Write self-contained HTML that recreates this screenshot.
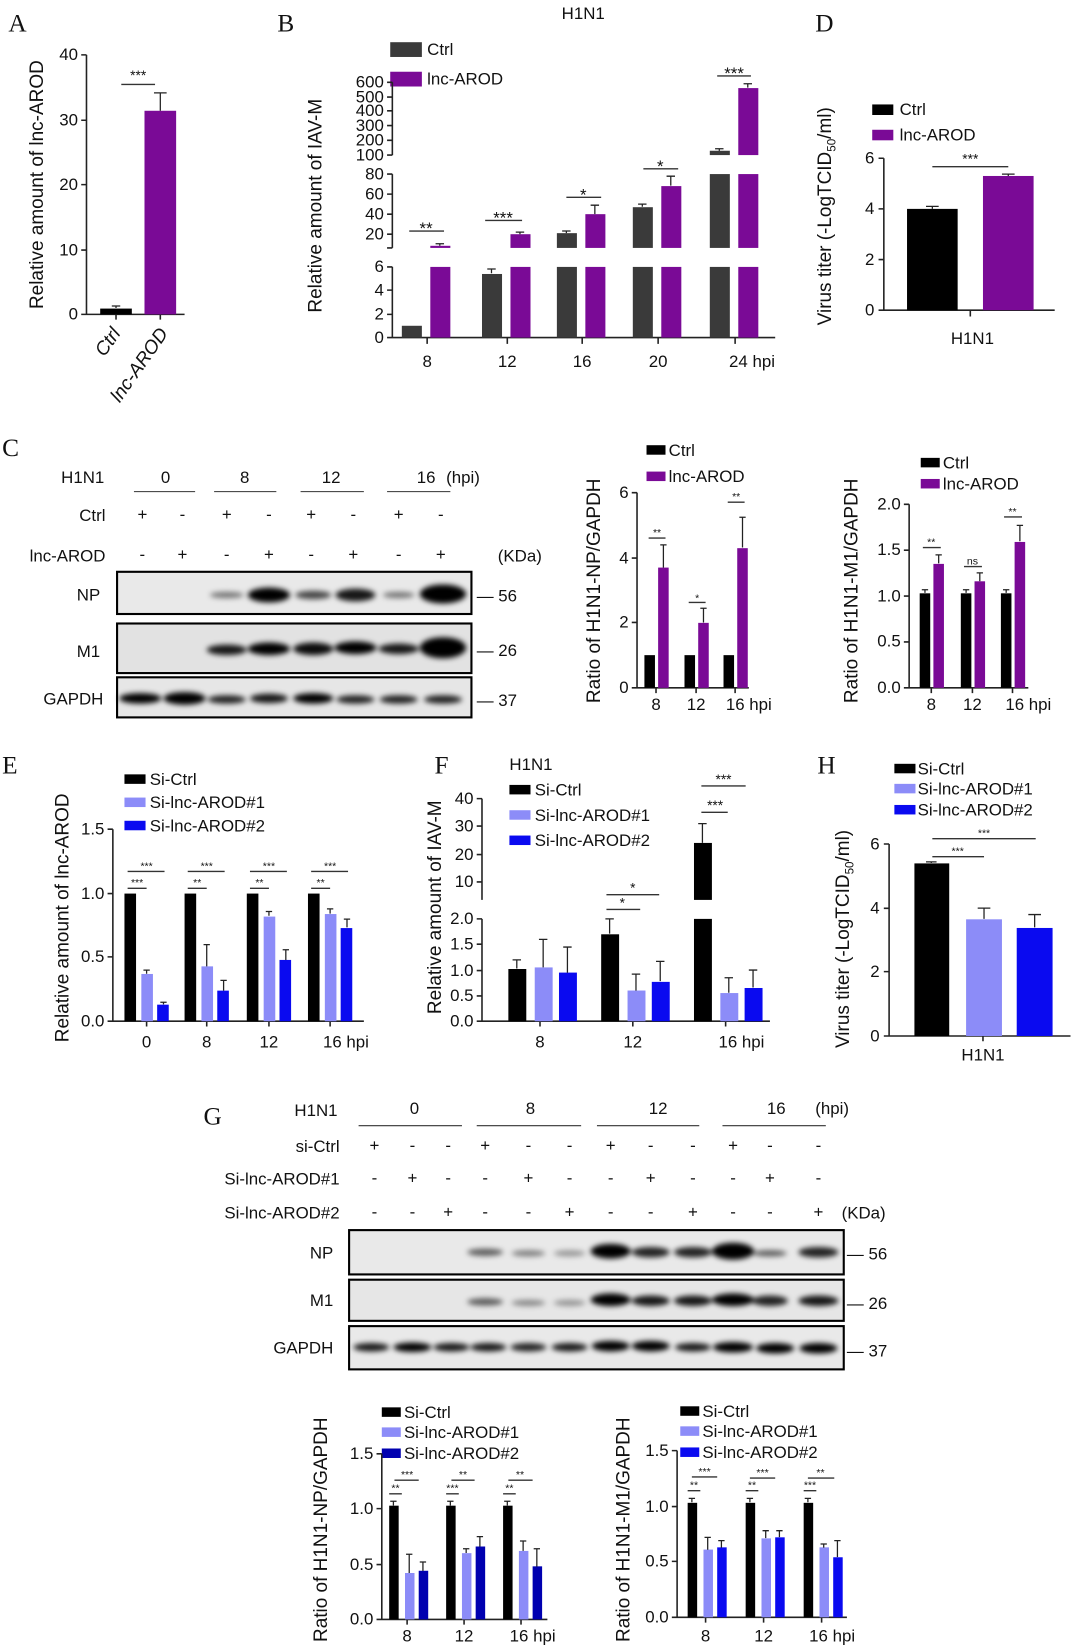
<!DOCTYPE html>
<html><head><meta charset="utf-8"><style>
html,body{margin:0;padding:0;background:#fff;}
svg{display:block;font-family:"Liberation Sans",Arial,sans-serif;}
.t{font-size:16px;fill:#111;}
.yt{font-size:18px;fill:#111;}
.s{font-size:13px;fill:#111;}
.ss{font-size:10px;fill:#111;}
.L{font-family:"Liberation Serif",serif;font-size:24px;fill:#111;}
.ax{stroke:#222;stroke-width:1.5;fill:none;}
.e{stroke:#222;stroke-width:1.2;fill:none;}
.sig{stroke:#333;stroke-width:1.3;}
</style></head><body>
<svg width="1080" height="1650" viewBox="0 0 1024 1564" preserveAspectRatio="none">
<defs><filter id="bl" x="-20%" y="-100%" width="140%" height="300%"><feGaussianBlur stdDeviation="2.5"/></filter></defs>

<!-- PANEL A -->
<text class="L" x="8" y="30">A</text>
<path class="ax" d="M82 52V298H175M77 52H82M77 114H82M77 175H82M77 237H82M77 298H82M110 298v5M152 298v5"/>
<g class="t" text-anchor="end"><text x="74" y="57">40</text><text x="74" y="119">30</text><text x="74" y="180">20</text><text x="74" y="242">10</text><text x="74" y="303">0</text></g>
<rect x="95" y="292.5" width="30" height="5.5" fill="#000"/>
<rect x="137" y="105" width="30" height="193" fill="#7A0A96"/>
<path class="e" d="M152 105V88M146 88H158M110 292V290M106 290H114"/>
<line class="sig" x1="115" y1="80" x2="147" y2="80"/><text class="s" x="131" y="76" text-anchor="middle">***</text>
<text class="yt" transform="translate(115,316) rotate(-55)" text-anchor="end" font-style="italic">Ctrl</text>
<text class="yt" transform="translate(160,316) rotate(-55)" text-anchor="end" font-style="italic">lnc-AROD</text>
<text class="yt" transform="translate(41,175) rotate(-90)" text-anchor="middle">Relative amount of lnc-AROD</text>

<!-- PANEL B -->
<text class="L" x="263" y="30">B</text>
<text class="t" x="553" y="18" text-anchor="middle">H1N1</text>
<rect x="370" y="40" width="30" height="14" fill="#3a3a3a"/><text class="t" x="405" y="52">Ctrl</text>
<rect x="370" y="68" width="30" height="14" fill="#7A0A96"/><text class="t" x="405" y="80">lnc-AROD</text>
<path class="ax" d="M372 253V320H735M372 165V235M372 78V147M367 253H372M367 275H372M367 298H372M367 320H372M367 165H372M367 184H372M367 203H372M367 222H372M367 235H372M367 78H372M367 92H372M367 105H372M367 119H372M367 133H372M367 147H372M405 320v6M481 320v6M552 320v6M624 320v6M697 320v6"/>
<g class="t" text-anchor="end" font-size="15"><text x="364" y="258">6</text><text x="364" y="280">4</text><text x="364" y="303">2</text><text x="364" y="325">0</text>
<text x="364" y="170">80</text><text x="364" y="189">60</text><text x="364" y="208">40</text><text x="364" y="227">20</text>
<text x="364" y="83">600</text><text x="364" y="97">500</text><text x="364" y="110">400</text><text x="364" y="124">300</text><text x="364" y="138">200</text><text x="364" y="152">100</text></g>
<g fill="#3a3a3a">
<rect x="381" y="308.8" width="19" height="11.2"/>
<rect x="457" y="259.7" width="19" height="60.3"/>
<rect x="528" y="253" width="19" height="67"/><rect x="528" y="221" width="19" height="14"/>
<rect x="600" y="253" width="19" height="67"/><rect x="600" y="196.4" width="19" height="38.6"/>
<rect x="673" y="253" width="19" height="67"/><rect x="673" y="165" width="19" height="70"/><rect x="673" y="142.9" width="19" height="4.1"/>
</g>
<g fill="#7A0A96">
<rect x="408" y="253" width="19" height="67"/><rect x="408" y="233" width="19" height="2"/>
<rect x="484" y="253" width="19" height="67"/><rect x="484" y="222" width="19" height="13"/>
<rect x="555" y="253" width="19" height="67"/><rect x="555" y="203" width="19" height="32"/>
<rect x="627" y="253" width="19" height="67"/><rect x="627" y="176.4" width="19" height="58.6"/>
<rect x="700" y="253" width="19" height="67"/><rect x="700" y="165" width="19" height="70"/><rect x="700" y="83.5" width="19" height="63.5"/>
</g>
<path class="e" d="M417 233V231M413 231H421M466 259V255M462 255H470M493 222V220M489 220H497M537 221V219M533 219H541M564 203V194.5M560 194.5H568M609 196V193.5M605 193.5H613M636 176V167M632 167H640M682 143V141M678 141H686M709 83V79.4M705 79.4H713"/>
<g class="sig"><line x1="388" y1="219" x2="421" y2="219"/><line x1="460" y1="209" x2="495" y2="209"/><line x1="537" y1="187" x2="570" y2="187"/><line x1="610" y1="160" x2="643" y2="160"/><line x1="680" y1="72" x2="712" y2="72"/></g>
<g class="t" text-anchor="middle"><text x="404" y="222">**</text><text x="477" y="212">***</text><text x="553" y="190">*</text><text x="626" y="163">*</text><text x="696" y="75">***</text></g>
<g class="t" text-anchor="middle"><text x="405" y="348">8</text><text x="481" y="348">12</text><text x="552" y="348">16</text><text x="624" y="348">20</text><text x="713" y="348">24 hpi</text></g>
<text class="yt" transform="translate(305,195) rotate(-90)" text-anchor="middle">Relative amount of IAV-M</text>

<!-- PANEL D -->
<text class="L" x="773" y="30">D</text>
<rect x="827" y="99" width="20" height="10" fill="#000"/><text class="t" x="853" y="109">Ctrl</text>
<rect x="827" y="123" width="20" height="10" fill="#7A0A96"/><text class="t" x="853" y="133">lnc-AROD</text>
<path class="ax" d="M838 150V294H1000M833 150H838M833 198H838M833 246H838M833 294H838M920 294v6"/>
<g class="t" text-anchor="end"><text x="829" y="155">6</text><text x="829" y="203">4</text><text x="829" y="251">2</text><text x="829" y="299">0</text></g>
<rect x="860" y="198" width="48" height="96" fill="#000"/>
<rect x="932" y="166.8" width="48" height="127.2" fill="#7A0A96"/>
<path class="e" d="M884 198V195.6M878 195.6H890M956 166.8V165M950 165H962"/>
<line class="sig" x1="884" y1="158" x2="956" y2="158"/><text class="s" x="920" y="155" text-anchor="middle">***</text>
<text class="t" x="922" y="326" text-anchor="middle">H1N1</text>
<text class="yt" transform="translate(788,205) rotate(-90)" text-anchor="middle">Virus titer (-LogTCID<tspan font-size="11" dy="4">50</tspan><tspan dy="-4">/ml)</tspan></text>

<!-- PANEL C blot -->
<text class="L" x="2" y="432">C</text>
<g class="t"><text x="58" y="458">H1N1</text><text x="157" y="458" text-anchor="middle">0</text><text x="232" y="458" text-anchor="middle">8</text><text x="314" y="458" text-anchor="middle">12</text><text x="404" y="458" text-anchor="middle">16</text><text x="423" y="458">(hpi)</text>
<text x="100" y="494" text-anchor="end">Ctrl</text><text x="100" y="532" text-anchor="end">lnc-AROD</text><text x="472" y="532">(KDa)</text>
<text x="95" y="569" text-anchor="end">NP</text><text x="95" y="623" text-anchor="end">M1</text><text x="98" y="668" text-anchor="end">GAPDH</text>
<text x="452" y="570">— 56</text><text x="452" y="622">— 26</text><text x="452" y="669">— 37</text></g>
<path stroke="#333" stroke-width="1" d="M127 466H185M203 466H262M285 466H345M367 466H427"/>
<g class="t" text-anchor="middle"><text x="135" y="493">+</text><text x="173" y="493">-</text><text x="215" y="493">+</text><text x="255" y="493">-</text><text x="295" y="493">+</text><text x="335" y="493">-</text><text x="378" y="493">+</text><text x="418" y="493">-</text>
<text x="135" y="531">-</text><text x="173" y="531">+</text><text x="215" y="531">-</text><text x="255" y="531">+</text><text x="295" y="531">-</text><text x="335" y="531">+</text><text x="378" y="531">-</text><text x="418" y="531">+</text></g>
<rect x="111" y="542" width="336" height="40" fill="#e9e9e9" stroke="#000" stroke-width="2"/>
<rect x="111" y="591" width="336" height="47" fill="#e2e2e2" stroke="#000" stroke-width="2"/>
<rect x="111" y="642" width="336" height="38" fill="#e6e6e6" stroke="#000" stroke-width="2"/>
<g filter="url(#bl)" fill="#000">
<ellipse cx="215" cy="564" rx="16" ry="3" opacity=".5"/><ellipse cx="255" cy="564" rx="20" ry="7"/><ellipse cx="297" cy="564" rx="17" ry="4" opacity=".7"/><ellipse cx="337" cy="564" rx="19" ry="6" opacity=".9"/><ellipse cx="378" cy="564" rx="15" ry="3" opacity=".5"/><ellipse cx="420" cy="563" rx="22" ry="9"/>
<ellipse cx="215" cy="616" rx="19" ry="5" opacity=".9"/><ellipse cx="255" cy="615" rx="20" ry="6"/><ellipse cx="297" cy="615" rx="19" ry="6" opacity=".95"/><ellipse cx="337" cy="614" rx="20" ry="6"/><ellipse cx="378" cy="615" rx="19" ry="5" opacity=".9"/><ellipse cx="420" cy="614" rx="22" ry="10"/>
<ellipse cx="133" cy="662" rx="20" ry="5"/><ellipse cx="175" cy="662" rx="20" ry="6"/><ellipse cx="215" cy="663" rx="18" ry="4" opacity=".85"/><ellipse cx="255" cy="662" rx="18" ry="4.5" opacity=".9"/><ellipse cx="297" cy="662" rx="19" ry="5"/><ellipse cx="337" cy="663" rx="18" ry="4" opacity=".85"/><ellipse cx="378" cy="663" rx="18" ry="4" opacity=".85"/><ellipse cx="420" cy="663" rx="18" ry="4" opacity=".85"/>
</g>

<!-- C NP chart -->
<rect x="613" y="422" width="18" height="9" fill="#000"/><text class="t" x="634" y="432">Ctrl</text>
<rect x="613" y="447" width="18" height="9" fill="#7A0A96"/><text class="t" x="634" y="457">lnc-AROD</text>
<path class="ax" d="M604 467V652H710M599 467H604M599 529H604M599 590H604M599 652H604M622 652v5M660 652v5M697 652v5"/>
<g class="t" text-anchor="end"><text x="596" y="472">6</text><text x="596" y="534">4</text><text x="596" y="595">2</text><text x="596" y="657">0</text></g>
<g fill="#000"><rect x="611" y="621" width="10" height="31"/><rect x="649" y="621" width="10" height="31"/><rect x="686" y="621" width="10" height="31"/></g>
<g fill="#7A0A96"><rect x="624" y="538" width="10" height="114"/><rect x="662" y="590.4" width="10" height="61.6"/><rect x="699" y="519.6" width="10" height="132.4"/></g>
<path class="e" d="M629 538V516.5M626 516.5H632M667 590V576.5M664 576.5H670M704 519V490.3M701 490.3H707"/>
<path class="sig" d="M615 510H631M653 571H669M690 476H706"/>
<g class="ss" text-anchor="middle"><text x="623" y="508">**</text><text x="661" y="570">*</text><text x="698" y="474">**</text></g>
<g class="t" text-anchor="middle"><text x="622" y="673">8</text><text x="660" y="673">12</text><text x="710" y="673">16 hpi</text></g>
<text class="yt" transform="translate(569,560) rotate(-90)" text-anchor="middle">Ratio of H1N1-NP/GAPDH</text>

<!-- C M1 chart -->
<rect x="873" y="434" width="18" height="9" fill="#000"/><text class="t" x="894" y="444">Ctrl</text>
<rect x="873" y="454" width="18" height="9" fill="#7A0A96"/><text class="t" x="894" y="464">lnc-AROD</text>
<path class="ax" d="M862 478V652H975M857 478H862M857 521.5H862M857 565H862M857 608.5H862M857 652H862M883 652v5M922 652v5M960 652v5"/>
<g class="t" text-anchor="end"><text x="854" y="483">2.0</text><text x="854" y="526">1.5</text><text x="854" y="570">1.0</text><text x="854" y="613">0.5</text><text x="854" y="657">0.0</text></g>
<g fill="#000"><rect x="872" y="562.4" width="10" height="89.6"/><rect x="911" y="562.4" width="10" height="89.6"/><rect x="949" y="562.4" width="10" height="89.6"/></g>
<g fill="#7A0A96"><rect x="885" y="534.5" width="10" height="117.5"/><rect x="924" y="551" width="10" height="101"/><rect x="962" y="513.7" width="10" height="138.3"/></g>
<path class="e" d="M877 562V559M874 559H880M916 562V559M913 559H919M954 562V559M951 559H957M890 534V526M887 526H893M929 551V543M926 543H932M967 513V498M964 498H970"/>
<path class="sig" d="M875 519H892M914 537H931M952 490H969"/>
<g class="ss" text-anchor="middle"><text x="883" y="517">**</text><text x="922" y="535">ns</text><text x="960" y="488">**</text></g>
<g class="t" text-anchor="middle"><text x="883" y="673">8</text><text x="922" y="673">12</text><text x="975" y="673">16 hpi</text></g>
<text class="yt" transform="translate(813,560) rotate(-90)" text-anchor="middle">Ratio of H1N1-M1/GAPDH</text>

<!-- PANEL E -->
<text class="L" x="2" y="733">E</text>
<rect x="118" y="734" width="20" height="9" fill="#000"/><text class="t" x="142" y="744">Si-Ctrl</text>
<rect x="118" y="756" width="20" height="9" fill="#8C8CF8"/><text class="t" x="142" y="766">Si-lnc-AROD#1</text>
<rect x="118" y="778" width="20" height="9" fill="#0A0AF0"/><text class="t" x="142" y="788">Si-lnc-AROD#2</text>
<path class="ax" d="M107 786V968H345M102 786H107M102 847H107M102 907H107M102 968H107M139 968v5M196 968v5M255 968v5M313 968v5"/>
<g class="t" text-anchor="end"><text x="99" y="791">1.5</text><text x="99" y="852">1.0</text><text x="99" y="912">0.5</text><text x="99" y="973">0.0</text></g>
<g fill="#000"><rect x="118" y="847" width="11" height="121"/><rect x="175" y="847" width="11" height="121"/><rect x="234" y="847" width="11" height="121"/><rect x="292" y="847" width="11" height="121"/></g>
<g fill="#8C8CF8"><rect x="134" y="923.2" width="11" height="44.8"/><rect x="191" y="916" width="11" height="52"/><rect x="250" y="868.8" width="11" height="99.2"/><rect x="308" y="866.4" width="11" height="101.6"/></g>
<g fill="#0A0AF0"><rect x="149" y="952.3" width="11" height="15.7"/><rect x="206" y="939" width="11" height="29"/><rect x="265" y="909.9" width="11" height="58.1"/><rect x="323" y="879.7" width="11" height="88.3"/></g>
<path class="e" d="M139 923V919.6M136 919.6H142M155 952V950M152 950H158M196 916V895.4M193 895.4H199M212 939V929.3M209 929.3H215M255 868V864M252 864H258M271 910V900.2M268 900.2H274M313 866V861.5M310 861.5H316M329 879V871.2M326 871.2H332"/>
<path class="sig" d="M121 826H156M121 842H139M178 826H213M178 842H196M237 826H272M237 842H255M295 826H330M295 842H313"/>
<g class="ss" text-anchor="middle"><text x="139" y="824">***</text><text x="130" y="840">***</text><text x="196" y="824">***</text><text x="187" y="840">**</text><text x="255" y="824">***</text><text x="246" y="840">**</text><text x="313" y="824">***</text><text x="304" y="840">**</text></g>
<g class="t" text-anchor="middle"><text x="139" y="993">0</text><text x="196" y="993">8</text><text x="255" y="993">12</text><text x="328" y="993">16 hpi</text></g>
<text class="yt" transform="translate(65,870) rotate(-90)" text-anchor="middle">Relative amount of lnc-AROD</text>

<!-- PANEL F -->
<text class="L" x="412" y="733">F</text>
<text class="t" x="483" y="730">H1N1</text>
<rect x="483" y="744" width="20" height="9" fill="#000"/><text class="t" x="507" y="754">Si-Ctrl</text>
<rect x="483" y="768" width="20" height="9" fill="#8C8CF8"/><text class="t" x="507" y="778">Si-lnc-AROD#1</text>
<rect x="483" y="792" width="20" height="9" fill="#0A0AF0"/><text class="t" x="507" y="802">Si-lnc-AROD#2</text>
<path class="ax" d="M457 757V853M457 871V968H730M452 757H457M452 783H457M452 810H457M452 836H457M452 871H457M452 895H457M452 920H457M452 944H457M452 968H457M512 968v5M600 968v5M688 968v5"/>
<g class="t" text-anchor="end"><text x="449" y="762">40</text><text x="449" y="788">30</text><text x="449" y="815">20</text><text x="449" y="841">10</text><text x="449" y="876">2.0</text><text x="449" y="900">1.5</text><text x="449" y="925">1.0</text><text x="449" y="949">0.5</text><text x="449" y="973">0.0</text></g>
<g fill="#000"><rect x="482" y="918.5" width="17" height="49.5"/><rect x="570" y="885.6" width="17" height="82.4"/><rect x="658" y="871" width="17" height="97"/><rect x="658" y="799" width="17" height="54"/></g>
<g fill="#8C8CF8"><rect x="507" y="917" width="17" height="51"/><rect x="595" y="938.9" width="17" height="29.1"/><rect x="683" y="941.3" width="17" height="26.7"/></g>
<g fill="#0A0AF0"><rect x="530" y="921.9" width="17" height="46.1"/><rect x="618" y="930.7" width="17" height="37.3"/><rect x="706" y="936.5" width="17" height="31.5"/></g>
<path class="e" d="M490 918V909.8M486 909.8H494M515 917V890.4M511 890.4H519M538 922V897.7M534 897.7H542M578 885V871M574 871H582M603 939V923.4M599 923.4H607M626 930V911.3M622 911.3H630M666 799V780.7M662 780.7H670M691 941V926.8M687 926.8H695M714 936V919.5M710 919.5H718"/>
<path class="sig" d="M575 848H625M575 862H607M665 745H707M665 770H690"/>
<g class="s" text-anchor="middle"><text x="600" y="846">*</text><text x="590" y="860">*</text><text x="686" y="743">***</text><text x="678" y="768">***</text></g>
<g class="t" text-anchor="middle"><text x="512" y="993">8</text><text x="600" y="993">12</text><text x="703" y="993">16 hpi</text></g>
<text class="yt" transform="translate(418,860) rotate(-90)" text-anchor="middle">Relative amount of IAV-M</text>

<!-- PANEL H -->
<text class="L" x="775" y="733">H</text>
<rect x="848" y="724" width="20" height="9" fill="#000"/><text class="t" x="870" y="734">Si-Ctrl</text>
<rect x="848" y="743" width="20" height="9" fill="#8C8CF8"/><text class="t" x="870" y="753">Si-lnc-AROD#1</text>
<rect x="848" y="763" width="20" height="9" fill="#0A0AF0"/><text class="t" x="870" y="773">Si-lnc-AROD#2</text>
<path class="ax" d="M843 800V982H1015M838 800H843M838 861H843M838 921H843M838 982H843M932 982v5"/>
<g class="t" text-anchor="end"><text x="834" y="805">6</text><text x="834" y="866">4</text><text x="834" y="926">2</text><text x="834" y="987">0</text></g>
<rect x="867" y="818.4" width="33" height="163.6" fill="#000"/>
<rect x="916" y="871.4" width="34" height="110.6" fill="#8C8CF8"/>
<rect x="964" y="879.6" width="34" height="102.4" fill="#0A0AF0"/>
<path class="e" d="M883 818V817M878 817H888M933 871V860.8M927 860.8H939M981 879V866.9M975 866.9H987"/>
<path class="sig" d="M884 812H933M884 795H982"/>
<g class="ss" text-anchor="middle"><text x="908" y="810">***</text><text x="933" y="793">***</text></g>
<text class="t" x="932" y="1005" text-anchor="middle">H1N1</text>
<text class="yt" transform="translate(805,890) rotate(-90)" text-anchor="middle">Virus titer (-LogTCID<tspan font-size="11" dy="4">50</tspan><tspan dy="-4">/ml)</tspan></text>

<!-- PANEL G blot -->
<text class="L" x="193" y="1066">G</text>
<g class="t"><text x="320" y="1058" text-anchor="end">H1N1</text><text x="393" y="1056" text-anchor="middle">0</text><text x="503" y="1056" text-anchor="middle">8</text><text x="624" y="1056" text-anchor="middle">12</text><text x="736" y="1056" text-anchor="middle">16</text><text x="773" y="1056">(hpi)</text>
<text x="322" y="1092" text-anchor="end">si-Ctrl</text><text x="322" y="1123" text-anchor="end">Si-lnc-AROD#1</text><text x="322" y="1155" text-anchor="end">Si-lnc-AROD#2</text><text x="798" y="1155">(KDa)</text>
<text x="316" y="1193" text-anchor="end">NP</text><text x="316" y="1238" text-anchor="end">M1</text><text x="316" y="1283" text-anchor="end">GAPDH</text>
<text x="803" y="1194">— 56</text><text x="803" y="1241">— 26</text><text x="803" y="1286">— 37</text></g>
<path stroke="#333" stroke-width="1" d="M340 1067H438M452 1067H551M566 1067H663M685 1067H783"/>
<g class="t" text-anchor="middle">
<text x="355" y="1091">+</text><text x="391" y="1091">-</text><text x="425" y="1091">-</text><text x="460" y="1091">+</text><text x="501" y="1091">-</text><text x="540" y="1091">-</text><text x="579" y="1091">+</text><text x="617" y="1091">-</text><text x="657" y="1091">-</text><text x="695" y="1091">+</text><text x="730" y="1091">-</text><text x="776" y="1091">-</text>
<text x="355" y="1122">-</text><text x="391" y="1122">+</text><text x="425" y="1122">-</text><text x="460" y="1122">-</text><text x="501" y="1122">+</text><text x="540" y="1122">-</text><text x="579" y="1122">-</text><text x="617" y="1122">+</text><text x="657" y="1122">-</text><text x="695" y="1122">-</text><text x="730" y="1122">+</text><text x="776" y="1122">-</text>
<text x="355" y="1154">-</text><text x="391" y="1154">-</text><text x="425" y="1154">+</text><text x="460" y="1154">-</text><text x="501" y="1154">-</text><text x="540" y="1154">+</text><text x="579" y="1154">-</text><text x="617" y="1154">-</text><text x="657" y="1154">+</text><text x="695" y="1154">-</text><text x="730" y="1154">-</text><text x="776" y="1154">+</text></g>
<rect x="331" y="1166" width="469" height="42" fill="#e9e9e9" stroke="#000" stroke-width="2"/>
<rect x="331" y="1213" width="469" height="39" fill="#e6e6e6" stroke="#000" stroke-width="2"/>
<rect x="331" y="1257" width="469" height="41" fill="#e9e9e9" stroke="#000" stroke-width="2"/>
<g filter="url(#bl)" fill="#000">
<ellipse cx="460" cy="1187" rx="17" ry="3.5" opacity=".6"/><ellipse cx="501" cy="1188" rx="16" ry="3" opacity=".45"/><ellipse cx="540" cy="1188" rx="15" ry="3" opacity=".35"/><ellipse cx="579" cy="1186" rx="19" ry="7"/><ellipse cx="617" cy="1187" rx="18" ry="5" opacity=".85"/><ellipse cx="657" cy="1187" rx="18" ry="5" opacity=".85"/><ellipse cx="695" cy="1186" rx="20" ry="8"/><ellipse cx="730" cy="1188" rx="16" ry="3" opacity=".6"/><ellipse cx="776" cy="1187" rx="19" ry="5" opacity=".85"/>
<ellipse cx="460" cy="1234" rx="17" ry="3.5" opacity=".6"/><ellipse cx="501" cy="1235" rx="16" ry="3" opacity=".4"/><ellipse cx="540" cy="1235" rx="15" ry="3" opacity=".35"/><ellipse cx="579" cy="1232" rx="19" ry="6"/><ellipse cx="617" cy="1233" rx="18" ry="5" opacity=".9"/><ellipse cx="657" cy="1233" rx="18" ry="5" opacity=".9"/><ellipse cx="695" cy="1232" rx="20" ry="6"/><ellipse cx="730" cy="1233" rx="17" ry="5" opacity=".85"/><ellipse cx="776" cy="1233" rx="19" ry="5" opacity=".9"/>
<ellipse cx="352" cy="1277" rx="17" ry="4" opacity=".9"/><ellipse cx="391" cy="1277" rx="18" ry="4.5"/><ellipse cx="428" cy="1277" rx="17" ry="4" opacity=".9"/><ellipse cx="463" cy="1277" rx="17" ry="4" opacity=".9"/><ellipse cx="501" cy="1277" rx="17" ry="4" opacity=".85"/><ellipse cx="540" cy="1277" rx="17" ry="4" opacity=".9"/><ellipse cx="579" cy="1276" rx="18" ry="5"/><ellipse cx="617" cy="1276" rx="18" ry="5"/><ellipse cx="657" cy="1277" rx="17" ry="4" opacity=".9"/><ellipse cx="695" cy="1277" rx="19" ry="5"/><ellipse cx="735" cy="1278" rx="18" ry="5"/><ellipse cx="776" cy="1278" rx="18" ry="5"/>
</g>

<!-- G NP chart -->
<rect x="362" y="1334" width="18" height="9" fill="#000"/><text class="t" x="383" y="1344">Si-Ctrl</text>
<rect x="362" y="1353" width="18" height="9" fill="#8C8CF8"/><text class="t" x="383" y="1363">Si-lnc-AROD#1</text>
<rect x="362" y="1373" width="18" height="9" fill="#0000b0"/><text class="t" x="383" y="1383">Si-lnc-AROD#2</text>
<path class="ax" d="M362 1378V1535H519M357 1378H362M357 1430H362M357 1483H362M357 1535H362M386 1535v5M440 1535v5M494 1535v5"/>
<g class="t" text-anchor="end"><text x="354" y="1383">1.5</text><text x="354" y="1435">1.0</text><text x="354" y="1488">0.5</text><text x="354" y="1540">0.0</text></g>
<g fill="#000"><rect x="369" y="1427.2" width="9" height="107.8"/><rect x="423" y="1427.2" width="9" height="107.8"/><rect x="477" y="1427.2" width="9" height="107.8"/></g>
<g fill="#8C8CF8"><rect x="384" y="1491" width="9" height="44"/><rect x="438" y="1472.2" width="9" height="62.8"/><rect x="492" y="1470.1" width="9" height="64.9"/></g>
<g fill="#0000b0"><rect x="397" y="1488.9" width="9" height="46.1"/><rect x="451" y="1465.9" width="9" height="69.1"/><rect x="505" y="1484.7" width="9" height="50.3"/></g>
<path class="e" d="M373 1427V1423M370 1423H376M427 1427V1423M424 1423H430M481 1427V1423M478 1423H484M388 1491V1473.2M385 1473.2H391M401 1489V1480.6M398 1480.6H404M442 1472V1468M439 1468H445M455 1466V1456.5M452 1456.5H458M496 1470V1460.7M493 1460.7H499M509 1485V1468M506 1468H512"/>
<path class="sig" d="M374 1403H397M369 1416H381M428 1403H450M423 1416H435M482 1403H505M477 1416H489"/>
<g class="ss" text-anchor="middle"><text x="386" y="1401">***</text><text x="375" y="1414">**</text><text x="439" y="1401">**</text><text x="429" y="1414">***</text><text x="493" y="1401">**</text><text x="483" y="1414">**</text></g>
<g class="t" text-anchor="middle"><text x="386" y="1556">8</text><text x="440" y="1556">12</text><text x="505" y="1556">16 hpi</text></g>
<text class="yt" transform="translate(310,1450) rotate(-90)" text-anchor="middle">Ratio of H1N1-NP/GAPDH</text>

<!-- G M1 chart -->
<rect x="645" y="1333" width="18" height="9" fill="#000"/><text class="t" x="666" y="1343">Si-Ctrl</text>
<rect x="645" y="1352" width="18" height="9" fill="#8C8CF8"/><text class="t" x="666" y="1362">Si-lnc-AROD#1</text>
<rect x="645" y="1372" width="18" height="9" fill="#0A0AF0"/><text class="t" x="666" y="1382">Si-lnc-AROD#2</text>
<path class="ax" d="M642 1375V1533H803M637 1375H642M637 1428H642M637 1480H642M637 1533H642M669 1533v5M724 1533v5M779 1533v5"/>
<g class="t" text-anchor="end"><text x="634" y="1380">1.5</text><text x="634" y="1433">1.0</text><text x="634" y="1485">0.5</text><text x="634" y="1538">0.0</text></g>
<g fill="#000"><rect x="652" y="1424.5" width="9" height="108.5"/><rect x="707" y="1424.5" width="9" height="108.5"/><rect x="762" y="1424.5" width="9" height="108.5"/></g>
<g fill="#8C8CF8"><rect x="667" y="1468.8" width="9" height="64.2"/><rect x="722" y="1458.2" width="9" height="74.8"/><rect x="777" y="1466.7" width="9" height="66.3"/></g>
<g fill="#0A0AF0"><rect x="680" y="1466.7" width="9" height="66.3"/><rect x="735" y="1457.2" width="9" height="75.8"/><rect x="790" y="1476.1" width="9" height="56.9"/></g>
<path class="e" d="M656 1424V1420.3M653 1420.3H659M711 1424V1420.3M708 1420.3H714M766 1424V1420.3M763 1420.3H769M671 1469V1457.2M668 1457.2H674M684 1467V1460.3M681 1460.3H687M726 1458V1450.9M723 1450.9H729M739 1457V1450.9M736 1450.9H742M781 1467V1463.5M778 1463.5H784M794 1476V1460.3M791 1460.3H797"/>
<path class="sig" d="M656 1400H680M652 1413H664M711 1401H735M707 1413H719M766 1401H791M762 1413H774"/>
<g class="ss" text-anchor="middle"><text x="668" y="1398">***</text><text x="658" y="1411">**</text><text x="723" y="1399">***</text><text x="713" y="1411">**</text><text x="778" y="1399">**</text><text x="768" y="1411">***</text></g>
<g class="t" text-anchor="middle"><text x="669" y="1556">8</text><text x="724" y="1556">12</text><text x="789" y="1556">16 hpi</text></g>
<text class="yt" transform="translate(597,1450) rotate(-90)" text-anchor="middle">Ratio of H1N1-M1/GAPDH</text>
</svg>
</body></html>
